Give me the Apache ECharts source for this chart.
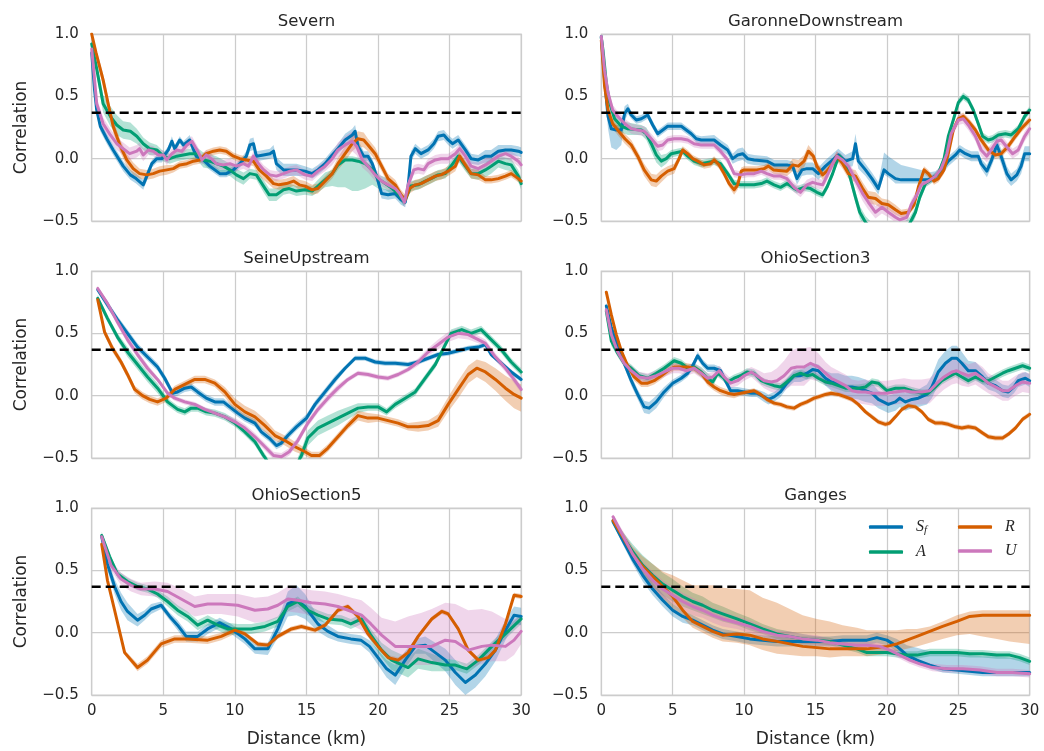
<!DOCTYPE html>
<html>
<head>
<meta charset="utf-8">
<script src="https://cdn.jsdelivr.net/npm/echarts@6/dist/echarts.min.js"></script>
<style>
  html, body { margin: 0; padding: 0; background: #fff; }
  #chart { width: 1044px; height: 751px; }
</style>
</head>
<body>
<div id="chart"></div>
<script>
// Spatial correlation of four variables versus distance, one panel per river reach.
// Each point: [distance km, correlation, band below] or [distance km, correlation, band below, band above].

const X_TICKS = [0, 5, 10, 15, 20, 25, 30];
const Y_TICKS = [-0.5, 0.0, 0.5, 1.0];
const THRESHOLD = Math.exp(-1); // e-folding level

const severnSf = [[0,0.85,0.05],[0.2,0.55,0.05],[0.35,0.39,0.04],[0.6,0.26,0.04],[1.05,0.16,0.04],[1.5,0.07,0.04],[2.2,-0.06,0.04],[2.7,-0.13,0.04],[3.1,-0.16,0.04],[3.6,-0.21,0.04],[3.85,-0.14,0.04],[4.2,-0.04,0.03],[4.55,0,0.03],[4.9,0,0.03],[5.35,0.07,0.03],[5.6,0.14,0.04],[5.8,0.08,0.03],[6.15,0.15,0.03],[6.4,0.11,0.03],[6.85,0.15,0.04],[7.3,0.02,0.03],[7.8,-0.01,0.03],[8.25,-0.06,0.03],[8.95,-0.12,0.03],[9.4,-0.12,0.03],[9.9,-0.09,0.03],[10.35,-0.04,0.03],[10.8,0.02,0.04],[11.05,0.11,0.05],[11.3,0.12,0.05],[11.5,0.02,0.04],[12,0.03,0.04],[12.45,0.04,0.04],[12.7,0.06,0.05],[12.9,-0.04,0.05],[13.4,-0.09,0.05],[14.3,-0.09,0.05],[14.9,-0.1,0.04],[15.4,-0.12,0.04],[15.8,-0.09,0.04],[16.3,-0.04,0.04],[16.8,0.03,0.04],[17.2,0.08,0.04],[17.7,0.15,0.05],[18.2,0.19,0.05],[18.4,0.22,0.05],[18.6,0.1,0.05],[19,0.02,0.04],[19.3,0.02,0.04],[19.6,-0.04,0.04],[19.9,-0.14,0.04],[20.25,-0.28,0.04],[20.7,-0.29,0.04],[21.2,-0.28,0.04],[21.6,-0.33,0.04],[21.9,-0.35,0.04],[22.1,-0.22,0.04],[22.3,0.02,0.04],[22.6,0.08,0.04],[23,0.04,0.04],[23.5,0.07,0.04],[23.9,0.12,0.04],[24.2,0.18,0.04],[24.6,0.19,0.04],[24.9,0.15,0.04],[25.2,0.12,0.04],[25.6,0.15,0.04],[26.1,0.07,0.04],[26.5,0,0.04],[27,-0.01,0.04],[27.5,0.02,0.05],[27.9,0.02,0.05],[28.4,0.06,0.05],[28.9,0.07,0.04],[29.3,0.07,0.04],[29.8,0.06,0.04],[30,0.05,0.04]];
const severnA = [[0,0.92,0.05],[0.35,0.72,0.06],[0.8,0.44,0.07],[1.3,0.34,0.08],[1.75,0.27,0.08],[2.2,0.23,0.07],[2.7,0.22,0.07],[3.15,0.18,0.06],[3.6,0.12,0.05],[4.05,0.08,0.05],[4.55,0.07,0.04],[5,0.02,0.04],[5.45,0,0.04],[5.95,0.02,0.04],[6.4,0.03,0.04],[6.85,0.04,0.04],[7.35,0.04,0.05],[7.8,-0.01,0.06],[8.25,-0.02,0.06],[8.7,-0.04,0.06],[9.2,-0.06,0.05],[9.65,-0.09,0.05],[10.1,-0.13,0.05],[10.6,-0.16,0.05],[11.05,-0.12,0.04],[11.5,-0.13,0.04],[12,-0.22,0.05],[12.4,-0.29,0.05],[12.9,-0.29,0.05],[13.4,-0.25,0.04],[13.8,-0.24,0.04],[14.3,-0.26,0.04],[14.9,-0.25,0.04],[15.4,-0.26,0.04],[15.8,-0.22,0.05],[16.3,-0.17,0.06],[16.8,-0.12,0.1,0.03],[17.2,-0.05,0.18,0.03],[17.7,-0.01,0.22,0.03],[18.2,-0.01,0.25,0.03],[18.6,-0.02,0.24,0.03],[19.1,-0.04,0.2,0.03],[19.6,-0.09,0.12,0.03],[20,-0.16,0.08,0.03],[20.5,-0.2,0.05],[21,-0.24,0.05],[21.4,-0.28,0.04],[21.8,-0.34,0.04],[22,-0.3,0.04],[22.3,-0.22,0.04],[22.8,-0.21,0.04],[23.3,-0.18,0.04],[23.7,-0.16,0.04],[24.2,-0.13,0.04],[24.7,-0.12,0.04],[25.1,-0.06,0.04],[25.6,0.02,0.04],[26.1,-0.06,0.04],[26.5,-0.12,0.04],[27,-0.12,0.05],[27.5,-0.09,0.06],[27.9,-0.06,0.06],[28.4,-0.02,0.05],[28.9,-0.04,0.05],[29.3,-0.05,0.05],[29.8,-0.14,0.05],[30,-0.2,0.05]];
const severnR = [[0,1.0,0.03],[0.3,0.85,0.04],[0.8,0.63,0.05],[1.15,0.44,0.05],[1.5,0.26,0.05],[2,0.1,0.05],[2.45,-0.01,0.05],[2.9,-0.08,0.05],[3.35,-0.12,0.04],[3.85,-0.13,0.04],[4.3,-0.12,0.04],[4.75,-0.1,0.04],[5.25,-0.09,0.04],[5.7,-0.08,0.03],[6.15,-0.05,0.03],[6.65,-0.04,0.03],[7.1,-0.02,0.03],[7.55,-0.01,0.03],[8,0.04,0.03],[8.5,0.06,0.03],[8.95,0.07,0.03],[9.4,0.06,0.03],[9.9,0.02,0.03],[10.35,0,0.03],[10.8,-0.01,0.03],[11.3,-0.02,0.04],[11.7,-0.09,0.05],[12.2,-0.14,0.05],[12.7,-0.2,0.04],[13.1,-0.21,0.04],[13.6,-0.2,0.04],[14.1,-0.18,0.04],[14.5,-0.21,0.04],[14.9,-0.22,0.04],[15.4,-0.25,0.04],[15.8,-0.24,0.04],[16.3,-0.18,0.04],[16.8,-0.12,0.04],[17.2,-0.04,0.05],[17.7,0.04,0.06],[18.2,0.12,0.06],[18.6,0.16,0.06],[19,0.15,0.06],[19.3,0.11,0.05],[19.8,0.04,0.05],[20.25,-0.06,0.04],[20.7,-0.16,0.04],[21.2,-0.21,0.04],[21.6,-0.29,0.04],[21.9,-0.33,0.04],[22.2,-0.24,0.04],[22.6,-0.21,0.04],[23,-0.2,0.04],[23.5,-0.17,0.04],[24,-0.14,0.04],[24.4,-0.13,0.04],[24.9,-0.1,0.04],[25.4,-0.06,0.04],[25.7,0.02,0.04],[26.1,-0.05,0.04],[26.5,-0.12,0.04],[27,-0.13,0.04],[27.5,-0.17,0.03],[27.9,-0.17,0.03],[28.4,-0.16,0.03],[28.9,-0.14,0.03],[29.3,-0.12,0.03],[29.8,-0.16,0.03],[30,-0.18,0.03]];
const severnU = [[0,0.88,0.05],[0.15,0.7,0.05],[0.35,0.44,0.05],[0.8,0.28,0.05],[1.3,0.19,0.05],[1.75,0.12,0.05],[2.2,0.08,0.05],[2.65,0.04,0.05],[3.15,0.06,0.05],[3.35,0.08,0.05],[3.6,0.03,0.05],[3.95,0.07,0.04],[4.3,0.06,0.04],[4.65,0.03,0.04],[5,0.03,0.04],[5.25,-0.01,0.04],[5.6,0.04,0.04],[5.95,0.07,0.04],[6.3,0.06,0.04],[6.65,0.11,0.04],[7,0.14,0.04],[7.35,0.07,0.04],[7.7,-0.01,0.04],[8,0.03,0.04],[8.35,0,0.04],[8.7,-0.04,0.04],[9.2,-0.05,0.04],[9.65,-0.04,0.04],[10.1,-0.06,0.04],[10.6,-0.04,0.04],[10.95,-0.06,0.04],[11.3,0.02,0.04],[11.65,-0.04,0.04],[12,-0.09,0.04],[12.45,-0.13,0.04],[12.9,-0.14,0.04],[13.4,-0.12,0.04],[13.85,-0.1,0.04],[14.3,-0.09,0.04],[14.9,-0.13,0.04],[15.4,-0.14,0.04],[15.8,-0.1,0.04],[16.3,-0.06,0.04],[16.8,0,0.05],[17.2,0.07,0.06],[17.7,0.11,0.07],[18.2,0.14,0.08],[18.5,0.1,0.07],[18.9,-0.01,0.06],[19.3,-0.06,0.05],[19.8,-0.13,0.05],[20.25,-0.18,0.04],[20.7,-0.21,0.04],[21.2,-0.24,0.04],[21.5,-0.28,0.04],[21.85,-0.35,0.04],[22.1,-0.21,0.04],[22.5,-0.09,0.04],[22.8,-0.08,0.04],[23.2,-0.09,0.04],[23.5,-0.04,0.04],[24,-0.01,0.04],[24.4,0,0.04],[24.9,0,0.04],[25.4,0.04,0.04],[25.7,0.08,0.04],[26.1,0.02,0.04],[26.5,-0.06,0.04],[27,-0.08,0.05],[27.5,-0.05,0.05],[27.9,-0.02,0.05],[28.4,0.02,0.05],[28.9,0.04,0.04],[29.3,0.02,0.04],[29.8,-0.02,0.04],[30,-0.05,0.04]];

const garonneSf = [[0,0.98,0.03],[0.23,0.63,0.06],[0.47,0.34,0.1],[0.7,0.24,0.15,0.04],[1.05,0.23,0.16,0.04],[1.4,0.23,0.12,0.04],[1.63,0.36,0.06],[1.86,0.4,0.04],[2.1,0.35,0.03],[2.45,0.31,0.03],[2.8,0.32,0.03],[3.25,0.35,0.03],[3.6,0.27,0.03],[3.95,0.2,0.03],[4.3,0.23,0.03],[4.65,0.26,0.03],[5.6,0.26,0.03],[5.95,0.23,0.03],[6.3,0.2,0.03],[6.65,0.16,0.03],[7,0.15,0.03],[7.9,0.15,0.04],[8.35,0.11,0.04],[8.85,0.07,0.04],[9.2,0,0.04],[9.55,0.03,0.05],[9.9,0.04,0.05],[10.25,0,0.04],[10.7,-0.01,0.04],[11.6,-0.02,0.04],[12.1,-0.05,0.04],[13,-0.05,0.04],[13.4,-0.06,0.04],[13.7,-0.16,0.05],[14.05,-0.09,0.05],[14.4,-0.08,0.05],[14.8,-0.08,0.05],[15.2,-0.12,0.05],[15.7,-0.06,0.05],[16.2,-0.01,0.05],[16.6,0.03,0.05],[17.1,-0.02,0.05],[17.6,0,0.06],[17.8,0.12,0.08],[18,-0.02,0.06],[18.5,-0.09,0.05],[18.95,-0.16,0.05],[19.4,-0.24,0.05],[19.8,-0.09,0.04,0.14],[20.1,-0.12,0.03,0.14],[20.6,-0.16,0.04,0.14],[21,-0.17,0.03,0.12],[21.7,-0.17,0.03,0.1],[22.4,-0.17,0.03,0.08],[22.9,-0.17,0.03,0.06],[23.4,-0.14,0.04],[23.8,-0.1,0.04],[24.3,-0.02,0.04],[24.8,0.03,0.04],[25.1,0.07,0.04],[25.5,0.04,0.04],[25.9,0.02,0.04],[26.4,0.02,0.04],[26.6,-0.04,0.04],[27,-0.1,0.05],[27.3,-0.02,0.05],[27.7,0.11,0.06],[28,0.02,0.06],[28.4,-0.12,0.06],[28.7,-0.17,0.05],[29.1,-0.13,0.05],[29.4,-0.06,0.06],[29.65,0.04,0.06],[30,0.04,0.06]];
const garonneA = [[0,0.97,0.03],[0.12,0.87,0.04],[0.35,0.61,0.05],[0.58,0.45,0.05],[0.93,0.32,0.05],[1.4,0.26,0.05],[1.86,0.24,0.05],[2.8,0.23,0.04],[3.15,0.2,0.05],[3.5,0.12,0.06],[3.85,0.03,0.06],[4.2,-0.02,0.05],[4.55,0,0.04],[4.9,0.04,0.03],[5.7,0.06,0.03],[6.05,0.02,0.03],[6.5,-0.02,0.03],[7,-0.04,0.03],[7.9,-0.02,0.03],[8.35,-0.04,0.03],[8.85,-0.12,0.03],[9.3,-0.2,0.03],[9.75,-0.21,0.03],[10.7,-0.21,0.03],[11.2,-0.2,0.03],[11.6,-0.18,0.03],[12.1,-0.21,0.03],[12.55,-0.23,0.03],[13,-0.2,0.03],[13.4,-0.23,0.03],[13.7,-0.25,0.03],[14.2,-0.23,0.03],[14.65,-0.24,0.03],[15.1,-0.27,0.03],[15.5,-0.29,0.03],[15.8,-0.23,0.03],[16.2,-0.12,0.03],[16.5,-0.02,0.03],[16.7,0.02,0.03],[17.1,-0.04,0.03],[17.4,-0.14,0.04],[17.8,-0.31,0.05],[18.1,-0.43,0.05],[18.5,-0.51,0.05],[19,-0.57,0.05],[20,-0.6,0.05],[21,-0.58,0.05],[21.6,-0.52,0.05],[22,-0.43,0.04],[22.3,-0.31,0.04],[22.7,-0.2,0.03],[23.1,-0.17,0.03],[23.6,-0.12,0.03],[24,0,0.03],[24.3,0.18,0.03],[24.65,0.31,0.03],[25,0.45,0.03],[25.35,0.5,0.03],[25.7,0.47,0.03],[26.05,0.39,0.03],[26.4,0.28,0.03],[26.7,0.18,0.03],[27.1,0.15,0.03],[27.4,0.16,0.03],[27.8,0.19,0.03],[28.3,0.2,0.03],[28.7,0.19,0.03],[29.2,0.24,0.03],[29.65,0.34,0.03],[30,0.39,0.03]];
const garonneR = [[0,0.95,0.03],[0.23,0.58,0.04],[0.47,0.39,0.04],[0.8,0.28,0.04],[1.15,0.23,0.04],[1.65,0.16,0.04],[2.1,0.11,0.04],[2.55,0.02,0.04],[3,-0.09,0.05],[3.5,-0.17,0.05],[3.85,-0.18,0.05],[4.2,-0.14,0.05],[4.65,-0.1,0.04],[5.1,-0.08,0.04],[5.45,0,0.03],[5.7,0.07,0.03],[6.05,0.04,0.03],[6.4,0,0.03],[6.75,-0.02,0.03],[7.2,-0.05,0.03],[7.65,-0.04,0.03],[7.9,-0.01,0.03],[8.25,-0.05,0.03],[8.6,-0.12,0.03],[8.95,-0.2,0.03],[9.3,-0.25,0.04],[9.55,-0.21,0.04],[9.8,-0.1,0.03],[10,-0.09,0.03],[10.9,-0.09,0.03],[11.4,-0.08,0.03],[11.7,-0.06,0.03],[12.05,-0.09,0.03],[13,-0.1,0.04],[13.4,-0.05,0.05],[13.8,-0.06,0.05],[14.2,-0.02,0.05],[14.5,0.06,0.05],[14.85,0.02,0.04],[15.1,-0.06,0.04],[15.5,-0.13,0.04],[15.8,-0.1,0.04],[16.2,-0.04,0.04],[16.5,0.02,0.04],[16.9,-0.04,0.04],[17.3,-0.12,0.04],[17.8,-0.14,0.05],[18.3,-0.24,0.05],[18.7,-0.31,0.05],[19.2,-0.32,0.05],[19.65,-0.36,0.04],[20.1,-0.37,0.04],[20.6,-0.41,0.04],[21,-0.44,0.03],[21.5,-0.43,0.03],[21.9,-0.37,0.03],[22.2,-0.23,0.03],[22.6,-0.09,0.03],[22.9,-0.12,0.03],[23.3,-0.18,0.03],[23.6,-0.16,0.03],[24,-0.09,0.03],[24.3,0.04,0.03],[24.65,0.23,0.03],[25,0.32,0.03],[25.35,0.34,0.03],[25.7,0.3,0.03],[26.2,0.23,0.03],[26.6,0.15,0.03],[27.1,0.07,0.03],[27.6,0.03,0.03],[28,0.04,0.03],[28.5,0.1,0.03],[29,0.18,0.03],[29.4,0.24,0.03],[30,0.31,0.03]];
const garonneU = [[0,0.98,0.03],[0.23,0.71,0.04],[0.47,0.53,0.04],[0.8,0.39,0.04],[1.15,0.34,0.04],[1.65,0.28,0.04],[2.1,0.24,0.04],[2.55,0.23,0.04],[3,0.22,0.04],[3.5,0.16,0.04],[3.95,0.1,0.04],[4.3,0.11,0.04],[4.65,0.15,0.03],[5.1,0.16,0.03],[5.6,0.16,0.03],[6.05,0.15,0.03],[6.5,0.12,0.03],[7,0.11,0.03],[7.9,0.11,0.03],[8.35,0.06,0.03],[8.85,-0.01,0.03],[9.3,-0.12,0.03],[9.75,-0.13,0.03],[10.25,-0.12,0.03],[10.7,-0.12,0.03],[11.2,-0.1,0.03],[11.6,-0.12,0.03],[12.1,-0.14,0.03],[12.55,-0.14,0.03],[13,-0.16,0.03],[13.5,-0.23,0.04],[13.95,-0.27,0.04],[14.4,-0.21,0.04],[14.8,-0.19,0.04],[15.1,-0.2,0.04],[15.5,-0.21,0.04],[15.8,-0.14,0.04],[16.2,-0.04,0.04],[16.5,0.02,0.04],[16.9,-0.01,0.04],[17.3,-0.06,0.04],[17.8,-0.17,0.05],[18.3,-0.28,0.06],[18.7,-0.35,0.06],[19.2,-0.43,0.05],[19.65,-0.39,0.05],[20.1,-0.43,0.04],[20.6,-0.47,0.04],[20.9,-0.49,0.04],[21.4,-0.47,0.04],[21.7,-0.37,0.04],[22.1,-0.29,0.04],[22.4,-0.21,0.03],[22.9,-0.18,0.03],[23.4,-0.14,0.03],[23.8,-0.08,0.03],[24.2,0.04,0.03],[24.5,0.2,0.03],[25,0.31,0.04],[25.35,0.32,0.04],[25.7,0.27,0.04],[26.2,0.18,0.04],[26.6,0.07,0.05],[27,0.02,0.05],[27.3,0.07,0.05],[27.7,0.14,0.04],[28,0.15,0.04],[28.5,0.08,0.04],[28.8,0.04,0.04],[29.2,0.07,0.04],[29.65,0.18,0.04],[30,0.24,0.04]];

const seineSf = [[0.42,0.85,0.02],[1.1,0.73,0.03],[1.8,0.61,0.03],[2.5,0.5,0.03],[3.2,0.39,0.03],[3.9,0.31,0.03],[4.6,0.23,0.03],[5.1,0.14,0.03],[5.65,0.02,0.03],[6,0.03,0.03],[6.5,0.06,0.03],[6.95,0.07,0.03],[7.4,0.03,0.03],[8,-0.02,0.03],[8.6,-0.05,0.03],[9.2,-0.05,0.03],[9.75,-0.1,0.03],[10.2,-0.14,0.03],[10.7,-0.18,0.03],[11.4,-0.22,0.03],[11.85,-0.29,0.03],[12.4,-0.34,0.03],[12.9,-0.4,0.03],[13.25,-0.38,0.03],[13.7,-0.32,0.03],[14.3,-0.25,0.03],[15,-0.18,0.03],[15.6,-0.07,0.03],[16.3,0.03,0.03],[17,0.13,0.03],[17.7,0.22,0.02],[18.4,0.3,0.02],[19.1,0.3,0.02],[19.8,0.27,0.02],[20.5,0.26,0.02],[21.2,0.26,0.02],[22.1,0.25,0.02],[22.8,0.27,0.02],[23.5,0.3,0.02],[24.2,0.33,0.02],[24.9,0.34,0.02],[25.6,0.36,0.02],[26.3,0.38,0.02],[27,0.39,0.02],[27.5,0.41,0.02],[27.9,0.33,0.02],[28.6,0.26,0.02],[29.3,0.19,0.02],[30,0.13,0.02]];
const seineA = [[0.42,0.78,0.03],[1.1,0.62,0.03],[1.8,0.47,0.03],[2.5,0.35,0.04],[3.2,0.25,0.04],[3.9,0.15,0.04],[4.6,0.06,0.04],[5.3,-0.05,0.03],[6,-0.11,0.03],[6.5,-0.13,0.03],[6.95,-0.1,0.03],[7.4,-0.1,0.03],[8,-0.13,0.03],[8.6,-0.14,0.03],[9.3,-0.17,0.03],[10,-0.22,0.03],[10.7,-0.29,0.03],[11.4,-0.37,0.03],[12,-0.48,0.03],[12.3,-0.53,0.03],[13.3,-0.6,0.03],[14.3,-0.56,0.04],[14.65,-0.48,0.05],[15.1,-0.34,0.06],[15.8,-0.26,0.06],[16.5,-0.22,0.06],[17.2,-0.18,0.06],[17.9,-0.14,0.05],[18.6,-0.1,0.04],[19.3,-0.09,0.03],[20,-0.09,0.03],[20.6,-0.13,0.03],[21.2,-0.07,0.03],[21.9,-0.02,0.03],[22.6,0.03,0.03],[23.3,0.14,0.03],[24,0.25,0.03],[24.7,0.41,0.03],[25.1,0.5,0.03],[25.85,0.53,0.03],[26.5,0.5,0.03],[27.2,0.53,0.03],[27.9,0.45,0.03],[28.6,0.37,0.03],[29.3,0.27,0.03],[30,0.19,0.03]];
const seineR = [[0.42,0.77,0.03],[0.9,0.51,0.03],[1.45,0.38,0.03],[2.05,0.27,0.03],[2.5,0.17,0.03],[3,0.05,0.03],[3.55,0,0.03],[4.05,-0.03,0.03],[4.6,-0.05,0.03],[5.2,-0.02,0.03],[5.8,0.05,0.03],[6.5,0.09,0.03],[7.2,0.13,0.03],[7.9,0.13,0.03],[8.6,0.1,0.03],[9.3,0.03,0.04],[10,-0.07,0.05],[10.7,-0.13,0.05],[11.4,-0.17,0.05],[12.1,-0.24,0.05],[12.8,-0.32,0.04],[13.5,-0.36,0.04],[14.2,-0.41,0.04],[14.9,-0.45,0.03],[15.35,-0.48,0.03],[15.9,-0.48,0.03],[16.5,-0.42,0.03],[17.2,-0.33,0.03],[17.9,-0.24,0.03],[18.6,-0.16,0.04],[19.3,-0.18,0.04],[20,-0.18,0.03],[20.7,-0.2,0.03],[21.4,-0.22,0.03],[22.1,-0.25,0.03],[22.8,-0.25,0.04],[23.5,-0.24,0.04],[24.2,-0.2,0.05],[24.9,-0.07,0.06],[25.6,0.05,0.07],[26.3,0.17,0.07],[26.9,0.22,0.07],[27.5,0.19,0.08],[28.2,0.13,0.09],[28.9,0.06,0.1],[29.5,0.01,0.11],[30,-0.02,0.11]];
const seineU = [[0.42,0.86,0.02],[1.1,0.74,0.02],[1.8,0.59,0.03],[2.5,0.45,0.03],[3.2,0.33,0.03],[3.9,0.22,0.03],[4.6,0.13,0.02],[5.3,0.02,0.02],[5.8,-0.02,0.02],[6.5,-0.05,0.02],[7.2,-0.07,0.02],[7.9,-0.11,0.02],[8.6,-0.14,0.02],[9.3,-0.17,0.02],[10,-0.21,0.03],[10.7,-0.26,0.03],[11.4,-0.33,0.03],[12.1,-0.41,0.03],[12.7,-0.48,0.03],[13.25,-0.49,0.03],[13.8,-0.45,0.03],[14.4,-0.36,0.03],[15.1,-0.22,0.03],[15.8,-0.11,0.03],[16.5,-0.02,0.03],[17.2,0.06,0.03],[17.9,0.13,0.02],[18.6,0.18,0.02],[19.3,0.17,0.02],[20,0.15,0.02],[20.7,0.14,0.02],[21.4,0.17,0.02],[22.1,0.21,0.02],[22.8,0.27,0.03],[23.5,0.35,0.03],[24.2,0.41,0.04],[24.9,0.47,0.04],[25.6,0.5,0.04],[26.3,0.49,0.04],[27,0.45,0.03],[27.5,0.42,0.03],[28.2,0.31,0.03],[28.9,0.22,0.03],[29.5,0.13,0.03],[30,0.05,0.03]];

const ohio3Sf = [[0.35,0.72,0.03],[0.7,0.55,0.03],[1.15,0.39,0.03],[1.6,0.26,0.03],[2.1,0.12,0.04],[2.55,0.01,0.04],[3,-0.09,0.05],[3.35,-0.1,0.05],[3.85,-0.05,0.05],[4.4,0.03,0.04],[5,0.1,0.03],[5.6,0.14,0.03],[6.05,0.18,0.03],[6.4,0.24,0.03],[6.75,0.32,0.03],[7.1,0.26,0.03],[7.45,0.22,0.03],[7.9,0.22,0.03],[8.35,0.2,0.03],[8.7,0.12,0.03],[9.05,0.04,0.03],[9.55,0.04,0.03],[10,0.03,0.03],[10.5,0.02,0.03],[10.9,0.02,0.03],[11.4,-0.01,0.04],[11.7,-0.03,0.04],[12.1,-0.01,0.04],[12.55,0.03,0.04],[13,0.1,0.04],[13.5,0.16,0.05],[13.95,0.16,0.05],[14.4,0.18,0.05],[14.8,0.21,0.05],[15.2,0.2,0.05],[15.7,0.14,0.06],[16.1,0.11,0.07],[16.6,0.1,0.08],[17.1,0.07,0.09],[17.55,0.07,0.09],[18,0.06,0.09],[18.5,0.04,0.09],[18.95,0.02,0.08],[19.4,-0.03,0.07],[20.1,-0.07,0.07],[20.6,-0.05,0.07],[20.9,-0.02,0.07],[21.3,-0.05,0.07],[21.75,-0.03,0.07],[22.2,-0.02,0.07],[22.8,0.01,0.08],[23.15,0.07,0.09],[23.6,0.19,0.1],[24.1,0.26,0.1],[24.55,0.3,0.1],[24.9,0.3,0.1],[25.25,0.26,0.09],[25.7,0.2,0.08],[26.2,0.2,0.07],[26.7,0.15,0.06],[27.1,0.1,0.05],[27.6,0.08,0.05],[28.1,0.04,0.05],[28.5,0.03,0.05],[28.9,0.07,0.05],[29.2,0.12,0.05],[29.7,0.14,0.05],[30,0.12,0.05]];
const ohio3A = [[0.35,0.68,0.04],[0.7,0.44,0.04],[1.15,0.34,0.03],[1.6,0.26,0.03],[2.1,0.22,0.03],[2.65,0.16,0.03],[3.25,0.14,0.03],[3.85,0.18,0.03],[4.4,0.22,0.03],[5.1,0.28,0.03],[5.6,0.26,0.03],[6.05,0.22,0.03],[6.5,0.23,0.03],[7,0.19,0.04],[7.45,0.14,0.04],[7.8,0.11,0.04],[8.15,0.18,0.03],[8.5,0.15,0.03],[8.85,0.11,0.03],[9.3,0.14,0.03],[9.75,0.16,0.03],[10.2,0.19,0.03],[10.7,0.18,0.03],[11.2,0.12,0.03],[11.6,0.1,0.03],[12.1,0.08,0.03],[12.55,0.07,0.03],[13,0.11,0.03],[13.5,0.16,0.03],[13.95,0.18,0.03],[14.4,0.16,0.03],[14.8,0.17,0.03],[15.2,0.14,0.03],[15.7,0.11,0.03],[16.1,0.1,0.03],[16.6,0.08,0.03],[17.1,0.06,0.03],[18,0.06,0.03],[18.5,0.07,0.03],[18.95,0.11,0.03],[19.4,0.1,0.03],[20,0.04,0.03],[20.6,0.06,0.03],[21.2,0.06,0.03],[21.75,0.04,0.03],[22.45,0.02,0.03],[22.9,0.02,0.03],[23.4,0.07,0.03],[23.85,0.12,0.03],[24.3,0.15,0.03],[24.8,0.18,0.03],[25.25,0.15,0.03],[25.7,0.12,0.03],[26.2,0.15,0.03],[26.7,0.12,0.03],[27.1,0.12,0.03],[27.6,0.15,0.03],[28.1,0.18,0.03],[28.5,0.2,0.03],[29,0.22,0.03],[29.5,0.24,0.03],[30,0.22,0.03]];
const ohio3R = [[0.35,0.83,0.02],[0.7,0.65,0.02],[1.05,0.49,0.02],[1.4,0.36,0.02],[1.85,0.24,0.02],[2.3,0.15,0.03],[2.8,0.1,0.03],[3.25,0.1,0.03],[3.7,0.12,0.03],[4.2,0.16,0.03],[4.65,0.2,0.03],[5.1,0.23,0.03],[6.05,0.23,0.03],[6.5,0.22,0.03],[7,0.18,0.03],[7.45,0.11,0.03],[7.9,0.07,0.03],[8.35,0.04,0.03],[8.85,0.02,0.03],[9.3,0.01,0.03],[9.75,0.02,0.02],[10.25,0.03,0.02],[10.7,0.04,0.02],[11.15,0.01,0.02],[11.6,-0.03,0.02],[12.1,-0.06,0.02],[12.55,-0.07,0.02],[13,-0.09,0.02],[13.5,-0.1,0.02],[13.95,-0.07,0.02],[14.4,-0.05,0.02],[14.9,-0.02,0.02],[15.2,-0.01,0.02],[15.7,0.01,0.02],[16.1,0.02,0.02],[16.6,0.01,0.02],[17.1,-0.01,0.02],[17.55,-0.03,0.02],[18,-0.07,0.02],[18.5,-0.13,0.02],[18.95,-0.17,0.02],[19.4,-0.21,0.02],[19.9,-0.23,0.02],[20.2,-0.22,0.02],[20.6,-0.17,0.02],[21.05,-0.11,0.02],[21.5,-0.08,0.02],[22,-0.09,0.02],[22.45,-0.13,0.02],[22.9,-0.19,0.02],[23.4,-0.22,0.02],[23.85,-0.22,0.02],[24.3,-0.23,0.02],[24.8,-0.25,0.02],[25.25,-0.26,0.02],[25.7,-0.25,0.02],[26.2,-0.26,0.02],[26.7,-0.3,0.02],[27.1,-0.33,0.02],[27.6,-0.34,0.02],[28.1,-0.34,0.02],[28.5,-0.31,0.02],[29,-0.26,0.02],[29.5,-0.19,0.02],[30,-0.15,0.02]];
const ohio3U = [[0.35,0.69,0.03],[0.7,0.49,0.03],[1.15,0.35,0.03],[1.6,0.26,0.03],[2.1,0.2,0.04],[2.65,0.15,0.04],[3.25,0.14,0.04],[3.85,0.16,0.04],[4.4,0.19,0.04],[5,0.22,0.04],[5.45,0.22,0.04],[5.95,0.2,0.04],[6.5,0.22,0.04],[7,0.18,0.04],[7.45,0.14,0.04],[7.8,0.15,0.04],[8.25,0.2,0.04],[8.6,0.15,0.04],[9.05,0.1,0.04],[9.55,0.12,0.04],[10,0.16,0.04],[10.5,0.19,0.04],[10.9,0.16,0.05],[11.4,0.12,0.06],[11.9,0.11,0.08],[12.3,0.12,0.1],[12.8,0.16,0.12],[13.3,0.22,0.14],[13.7,0.23,0.15],[14.2,0.23,0.15],[14.65,0.26,0.13],[15,0.24,0.12],[15.2,0.23,0.11],[15.7,0.18,0.09],[16.1,0.14,0.09],[16.6,0.11,0.09],[17.1,0.08,0.09],[17.55,0.04,0.09],[18,0.03,0.09],[18.5,0.03,0.1],[19,0.02,0.1],[19.4,0.02,0.1],[20,0.02,0.1],[20.6,0.03,0.1],[21.2,0.04,0.1],[21.75,0.03,0.1],[22.45,0.03,0.1],[23,0.04,0.1],[23.5,0.1,0.1],[24,0.15,0.1],[24.55,0.19,0.1],[24.9,0.2,0.1],[25.25,0.18,0.1],[25.7,0.16,0.09],[26.2,0.18,0.09],[26.7,0.14,0.09],[27.1,0.1,0.08],[27.6,0.07,0.08],[28.1,0.04,0.08],[28.5,0.04,0.08],[29,0.08,0.08],[29.5,0.11,0.08],[30,0.1,0.08]];

const ohio5Sf = [[0.7,0.77,0.03],[1.1,0.55,0.05],[1.6,0.37,0.06],[2.05,0.25,0.07],[2.5,0.17,0.07],[3.2,0.1,0.05],[3.7,0.14,0.04],[4.15,0.19,0.04],[4.85,0.22,0.03],[5.45,0.13,0.03],[6,0.06,0.04],[6.6,-0.03,0.04],[7.4,-0.03,0.04],[8.1,0.03,0.04],[8.95,0.08,0.04],[9.75,0.03,0.04],[10.7,-0.05,0.04],[11.4,-0.13,0.04],[12.3,-0.13,0.05],[13,0.03,0.07],[13.7,0.23,0.1],[14.3,0.26,0.12],[14.9,0.21,0.1],[15.8,0.07,0.06],[16.5,0.01,0.05],[17.2,-0.03,0.04],[18.1,-0.05,0.04],[18.8,-0.06,0.04],[19.4,-0.11,0.05],[20,-0.2,0.06],[20.6,-0.29,0.07],[21.2,-0.34,0.08],[21.9,-0.22,0.07],[22.6,-0.11,0.06],[23.3,-0.1,0.07],[24,-0.16,0.08],[24.7,-0.22,0.09],[25.4,-0.32,0.1],[26.1,-0.4,0.1],[26.8,-0.34,0.1],[27.5,-0.25,0.1],[28.2,-0.14,0.09],[28.9,0.02,0.08],[29.5,0.14,0.07],[30,0.13,0.07]];
const ohio5A = [[0.7,0.78,0.03],[1.25,0.61,0.03],[1.8,0.47,0.03],[2.5,0.41,0.03],[3.2,0.37,0.03],[3.9,0.35,0.03],[4.6,0.31,0.03],[5.3,0.25,0.04],[6,0.18,0.04],[6.7,0.13,0.04],[7.4,0.06,0.04],[8.1,0.1,0.04],[8.8,0.06,0.04],[9.5,0.03,0.05],[10.2,0.03,0.04],[11.15,0.03,0.04],[12.1,0.05,0.04],[13,0.09,0.04],[13.7,0.21,0.04],[14.4,0.25,0.04],[15.1,0.18,0.04],[15.8,0.14,0.04],[16.5,0.11,0.04],[17.45,0.1,0.04],[18.1,0.07,0.04],[18.85,0.11,0.04],[19.5,-0.02,0.05],[20.25,-0.14,0.06],[20.95,-0.22,0.08],[22.1,-0.28,0.08],[22.8,-0.21,0.08],[23.75,-0.24,0.07],[24.7,-0.26,0.05],[25.4,-0.26,0.04],[26.2,-0.29,0.04],[27,-0.22,0.04],[27.95,-0.11,0.04],[28.9,-0.01,0.04],[30,0.11,0.04]];
const ohio5R = [[0.7,0.71,0.02],[1.1,0.42,0.02],[1.6,0.18,0.02],[2.3,-0.16,0.02],[3.2,-0.28,0.03],[3.9,-0.22,0.03],[4.85,-0.09,0.03],[5.8,-0.05,0.03],[6.7,-0.05,0.03],[8.1,-0.06,0.03],[9.05,-0.03,0.03],[10,0.02,0.03],[10.7,-0.01,0.02],[11.6,-0.09,0.02],[12.3,-0.1,0.02],[13,-0.03,0.02],[13.95,0.03,0.02],[14.65,0.05,0.02],[15.6,0.02,0.02],[16.3,0.06,0.02],[17.2,0.18,0.02],[17.9,0.21,0.02],[18.6,0.13,0.02],[19.3,-0.01,0.02],[20,-0.11,0.02],[20.7,-0.2,0.02],[21.4,-0.22,0.02],[22.1,-0.16,0.02],[22.8,-0.03,0.02],[23.75,0.11,0.02],[24.45,0.17,0.02],[24.9,0.15,0.02],[25.6,0.03,0.02],[26.3,-0.14,0.02],[27,-0.22,0.02],[27.7,-0.2,0.02],[28.2,-0.14,0.02],[28.9,0.07,0.02],[29.5,0.3,0.02],[30,0.29,0.02]];
const ohio5U = [[0.7,0.77,0.03],[1.35,0.54,0.04],[2.05,0.43,0.05],[2.75,0.38,0.05],[3.45,0.35,0.05],[4.4,0.35,0.06],[5.3,0.33,0.07],[6.25,0.27,0.08],[7.2,0.21,0.08],[8.1,0.23,0.08],[9.05,0.23,0.08],[10.2,0.22,0.09],[11.4,0.18,0.1],[12.3,0.19,0.1],[13,0.22,0.1],[13.7,0.27,0.1],[14.4,0.26,0.1],[15.35,0.24,0.1],[16.3,0.23,0.1],[17.2,0.21,0.1],[18.15,0.17,0.11],[18.85,0.14,0.12],[19.5,0.07,0.13],[20.25,-0.02,0.14],[21.2,-0.11,0.15,0.2],[22.1,-0.11,0.15,0.24],[23.05,-0.11,0.15,0.27],[23.75,-0.11,0.15,0.3],[24.7,-0.06,0.15,0.3],[25.4,-0.07,0.15,0.3],[26.3,-0.14,0.15,0.32],[27.25,-0.11,0.14,0.3],[27.95,-0.1,0.13,0.27],[28.9,-0.11,0.12,0.22],[29.5,-0.06,0.12,0.17],[30,0.01,0.1,0.12]];

const gangesSf = [[0.82,0.89,0.02],[1.5,0.74,0.03],[2.2,0.59,0.04],[2.9,0.46,0.05],[3.6,0.35,0.05],[4.3,0.26,0.05],[5,0.18,0.05],[5.7,0.13,0.05],[6.4,0.1,0.04],[7.1,0.06,0.04],[7.8,0.02,0.04],[8.5,-0.01,0.04],[9.5,-0.03,0.04],[10.4,-0.05,0.04],[11.3,-0.06,0.04],[12.3,-0.07,0.04],[13.2,-0.07,0.04],[14.1,-0.07,0.04],[15.1,-0.07,0.04],[16,-0.07,0.04],[16.9,-0.06,0.04],[17.9,-0.06,0.04],[18.6,-0.06,0.04],[19.3,-0.04,0.04],[20,-0.06,0.04],[20.7,-0.11,0.04,0.06],[21.4,-0.18,0.03,0.08],[22.1,-0.22,0.03,0.1],[23,-0.26,0.03,0.11],[23.9,-0.29,0.03,0.12],[24.9,-0.3,0.03,0.13],[25.8,-0.31,0.03,0.13],[26.7,-0.32,0.03,0.13],[27.7,-0.32,0.03,0.13],[28.6,-0.32,0.03,0.12],[29.3,-0.32,0.03,0.11],[30,-0.32,0.03,0.1]];
const gangesA = [[0.82,0.9,0.02],[1.5,0.77,0.04],[2.2,0.65,0.06],[2.9,0.54,0.08],[3.6,0.46,0.09],[4.3,0.39,0.09],[5,0.34,0.09],[5.7,0.29,0.08],[6.4,0.25,0.07],[7.1,0.22,0.07],[7.8,0.18,0.06],[8.5,0.15,0.06],[9.5,0.11,0.05],[10.4,0.07,0.05],[11.3,0.03,0.04],[12.3,-0.01,0.04],[13.2,-0.03,0.04],[14.1,-0.05,0.04],[15.1,-0.06,0.03],[16,-0.07,0.03],[16.9,-0.1,0.03],[17.9,-0.13,0.03],[18.6,-0.16,0.03],[19.3,-0.16,0.03],[20,-0.16,0.03],[20.7,-0.17,0.03],[21.4,-0.18,0.03],[22.1,-0.18,0.03],[23,-0.16,0.03],[23.9,-0.16,0.03],[24.9,-0.16,0.03],[25.8,-0.17,0.03],[26.7,-0.17,0.03],[27.7,-0.18,0.03],[28.6,-0.18,0.03],[29.3,-0.2,0.03],[30,-0.23,0.03]];
const gangesR = [[0.82,0.9,0.02],[1.5,0.77,0.04],[2.2,0.63,0.06],[2.9,0.53,0.08],[3.6,0.45,0.1],[4.3,0.37,0.1,0.12],[5,0.29,0.1,0.17],[5.7,0.18,0.06,0.24],[6.4,0.09,0.05,0.29],[7.1,0.05,0.05,0.33],[7.8,0.01,0.05,0.37],[8.5,-0.02,0.05,0.38],[9.5,-0.01,0.07,0.36],[10.4,-0.02,0.08,0.36],[11.3,-0.05,0.09,0.33],[12.3,-0.07,0.1,0.31],[13.2,-0.09,0.09,0.28],[14.1,-0.11,0.08,0.25],[15.1,-0.12,0.07,0.23],[16,-0.13,0.07,0.22],[16.9,-0.13,0.06,0.19],[17.9,-0.13,0.06,0.17],[18.6,-0.13,0.06,0.15],[19.3,-0.12,0.06,0.14],[20,-0.11,0.06,0.13],[20.7,-0.09,0.06,0.11],[21.4,-0.06,0.07,0.09],[22.1,-0.03,0.08,0.06],[23,0.01,0.09,0.04],[23.9,0.05,0.1,0.04],[24.9,0.09,0.11,0.05],[25.8,0.13,0.14,0.04],[26.7,0.14,0.17,0.04],[27.7,0.14,0.19,0.04],[28.6,0.14,0.21,0.04],[29.3,0.14,0.22,0.04],[30,0.14,0.23,0.04]];
const gangesU = [[0.82,0.93,0.02],[1.5,0.78,0.04],[2.2,0.63,0.05],[2.9,0.51,0.06],[3.6,0.42,0.07],[4.3,0.35,0.07],[5,0.3,0.07],[5.7,0.25,0.07],[6.4,0.21,0.07],[7.1,0.18,0.06],[7.8,0.14,0.06],[8.5,0.11,0.06],[9.5,0.08,0.05],[10.4,0.05,0.05],[11.3,0.01,0.04],[12.3,-0.02,0.04],[13.2,-0.03,0.04],[14.1,-0.05,0.04],[15.1,-0.06,0.04],[16,-0.08,0.03],[16.9,-0.09,0.03],[17.9,-0.1,0.03],[18.6,-0.1,0.03],[19.5,-0.11,0.03],[20.2,-0.14,0.03],[20.9,-0.18,0.03],[21.6,-0.22,0.03],[22.3,-0.25,0.03],[23.2,-0.28,0.03],[24.2,-0.29,0.03],[25.3,-0.29,0.03],[26.5,-0.3,0.03],[27.7,-0.32,0.03],[28.8,-0.32,0.03],[30,-0.33,0.03]];

const PANELS = [
  { title: 'Severn',            series: { Sf: severnSf,  A: severnA,  R: severnR,  U: severnU } },
  { title: 'GaronneDownstream', series: { Sf: garonneSf, A: garonneA, R: garonneR, U: garonneU } },
  { title: 'SeineUpstream',     series: { Sf: seineSf,   A: seineA,   R: seineR,   U: seineU } },
  { title: 'OhioSection3',      series: { Sf: ohio3Sf,   A: ohio3A,   R: ohio3R,   U: ohio3U } },
  { title: 'OhioSection5',      series: { Sf: ohio5Sf,   A: ohio5A,   R: ohio5R,   U: ohio5U } },
  { title: 'Ganges',            series: { Sf: gangesSf,  A: gangesA,  R: gangesR,  U: gangesU } }
];

const SERIES_ORDER = ['Sf', 'A', 'R', 'U'];
const COLORS = { Sf: '#0173b2', A: '#029e73', R: '#d55e00', U: '#cc78bc' };

// layout
const COL_LEFT = [91.7, 601.3];
const COL_WIDTH = [429.5, 428.4];
const ROW_TOP = [34, 271, 508];
const ROW_HEIGHT = 187;
const FONT = 'DejaVu Sans';
const TEXT_COLOR = '#262626';
const GRID_COLOR = '#cccccc';

const fmtTick = v => v.toFixed(1).replace('-', '\u2212');

const grids = [], xAxes = [], yAxes = [], titles = [], series = [];

PANELS.forEach((panel, i) => {
  const col = i % 2, row = Math.floor(i / 2);
  const left = COL_LEFT[col], top = ROW_TOP[row], width = COL_WIDTH[col];
  const bottomRow = row === 2, leftCol = col === 0;

  grids.push({
    left, top, width, height: ROW_HEIGHT,
    show: true, borderColor: GRID_COLOR, borderWidth: 1.25,
    backgroundColor: 'transparent', containLabel: false, outerBoundsMode: 'none'
  });

  xAxes.push({
    gridIndex: i, type: 'value',
    min: X_TICKS[0], max: X_TICKS[X_TICKS.length - 1], interval: X_TICKS[1] - X_TICKS[0],
    axisLine: { show: false }, axisTick: { show: false },
    splitLine: { show: true, lineStyle: { color: GRID_COLOR, width: 1.25 } },
    axisLabel: { show: bottomRow, fontFamily: FONT, fontSize: 15, color: TEXT_COLOR, margin: 9 },
    name: bottomRow ? 'Distance (km)' : '',
    nameLocation: 'middle', nameGap: 36,
    nameTextStyle: { fontFamily: FONT, fontSize: 17, color: TEXT_COLOR }
  });

  yAxes.push({
    gridIndex: i, type: 'value',
    min: Y_TICKS[0], max: Y_TICKS[Y_TICKS.length - 1], interval: Y_TICKS[1] - Y_TICKS[0],
    axisLine: { show: false }, axisTick: { show: false },
    splitLine: { show: true, lineStyle: { color: GRID_COLOR, width: 1.25 } },
    axisLabel: { fontFamily: FONT, fontSize: 15, color: TEXT_COLOR, margin: 13, formatter: fmtTick },
    name: leftCol ? 'Correlation' : '',
    nameLocation: 'middle', nameGap: 62, nameRotate: 90,
    nameTextStyle: { fontFamily: FONT, fontSize: 17, color: TEXT_COLOR }
  });

  titles.push({
    text: panel.title,
    left: left + width / 2, top: top - 21, textAlign: 'center', padding: 0,
    textStyle: { fontFamily: FONT, fontSize: 16.5, fontWeight: 'normal', color: TEXT_COLOR }
  });

  // confidence bands underneath all lines
  SERIES_ORDER.forEach(key => {
    const pts = panel.series[key];
    series.push({
      type: 'custom', name: key + ' band', xAxisIndex: i, yAxisIndex: i,
      silent: true, z: 1, clip: true,
      data: [[pts[0][0], pts[0][1]]],
      renderItem(params, api) {
        const upper = pts.map(p => api.coord([p[0], p[1] + (p.length > 3 ? p[3] : p[2])]));
        const lower = pts.map(p => api.coord([p[0], p[1] - p[2]])).reverse();
        const cs = params.coordSys;
        return {
          type: 'group',
          clipPath: { type: 'rect', shape: { x: cs.x, y: cs.y, width: cs.width, height: cs.height } },
          children: [{
            type: 'polygon',
            shape: { points: upper.concat(lower) },
            style: { fill: COLORS[key], opacity: 0.3 }
          }]
        };
      }
    });
  });

  // mean correlation lines
  SERIES_ORDER.forEach(key => {
    series.push({
      type: 'line', name: key, xAxisIndex: i, yAxisIndex: i,
      data: panel.series[key].map(p => [p[0], p[1]]),
      showSymbol: false, symbol: 'none', silent: true, z: 2, clip: true,
      lineStyle: { color: COLORS[key], width: 3, join: 'round', cap: 'round' },
      itemStyle: { color: COLORS[key] }
    });
  });

  // 1/e reference level
  series.push({
    type: 'line', name: 'threshold', xAxisIndex: i, yAxisIndex: i,
    data: [[X_TICKS[0], THRESHOLD], [X_TICKS[X_TICKS.length - 1], THRESHOLD]],
    showSymbol: false, symbol: 'none', silent: true, z: 3,
    lineStyle: { color: '#000000', width: 2.6, type: [9, 5] }
  });
});

const legendRich = {
  i: { fontFamily: 'Liberation Serif', fontStyle: 'italic', fontSize: 16, lineHeight: 18, verticalAlign: 'middle', color: TEXT_COLOR },
  s: { fontFamily: 'Liberation Serif', fontStyle: 'italic', fontSize: 11, lineHeight: 11, verticalAlign: 'bottom', color: TEXT_COLOR }
};
const legendFmt = name => name === 'Sf' ? '{i|S}{s|f}' : '{i|' + name + '}';
const legendBase = {
  orient: 'vertical', top: 519, itemGap: 8, itemWidth: 34, itemHeight: 3.5,
  icon: 'roundRect', selectedMode: false, padding: 0,
  formatter: legendFmt, textStyle: { rich: legendRich, padding: [0, 0, 0, 8] }
};

const option = {
  animation: false,
  backgroundColor: '#ffffff',
  textStyle: { fontFamily: FONT },
  title: titles,
  grid: grids,
  xAxis: xAxes,
  yAxis: yAxes,
  legend: [
    Object.assign({}, legendBase, { left: 869, data: ['Sf', 'A'] }),
    Object.assign({}, legendBase, { left: 958, data: ['R', 'U'] })
  ],
  series
};

const chart = echarts.init(document.getElementById('chart'), null, { renderer: 'canvas' });
chart.setOption(option);
</script>
</body>
</html>
